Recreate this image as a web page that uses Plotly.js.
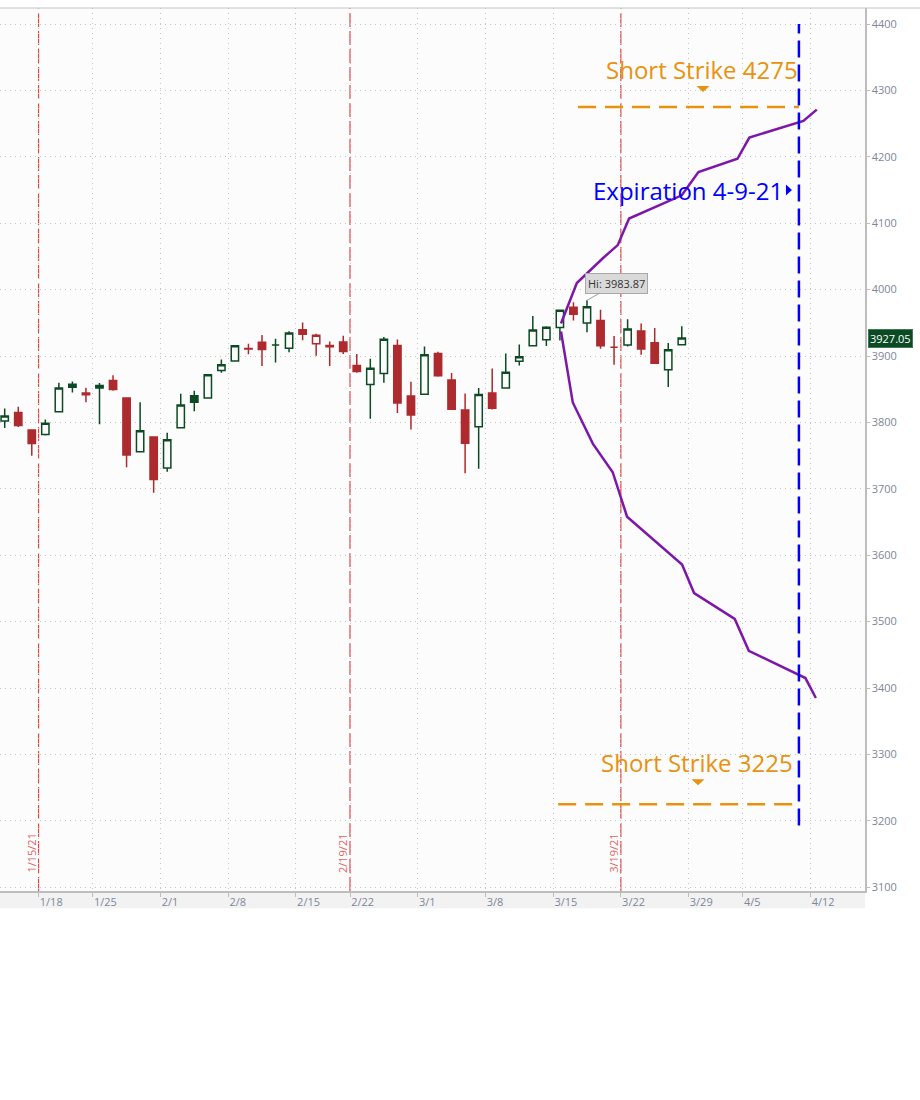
<!DOCTYPE html>
<html><head><meta charset="utf-8">
<script src="https://cdn.plot.ly/plotly-3.0.1.min.js"></script>
<style>html,body{margin:0;padding:0;background:#fff}#chart{width:920px;height:1100px}</style>
</head><body><div id="chart"></div>
<script>
// ---- data ----
const candleDates = ['2021-01-13','2021-01-14','2021-01-15','2021-01-19','2021-01-20','2021-01-21','2021-01-22',
 '2021-01-25','2021-01-26','2021-01-27','2021-01-28','2021-01-29','2021-02-01','2021-02-02','2021-02-03','2021-02-04','2021-02-05',
 '2021-02-08','2021-02-09','2021-02-10','2021-02-11','2021-02-12','2021-02-16','2021-02-17','2021-02-18','2021-02-19',
 '2021-02-22','2021-02-23','2021-02-24','2021-02-25','2021-02-26','2021-03-01','2021-03-02','2021-03-03','2021-03-04','2021-03-05',
 '2021-03-08','2021-03-09','2021-03-10','2021-03-11','2021-03-12','2021-03-15','2021-03-16','2021-03-17','2021-03-18','2021-03-19',
 '2021-03-22','2021-03-23','2021-03-24','2021-03-25','2021-03-26'];
const futureDays = ['2021-03-29','2021-03-30','2021-03-31','2021-04-01','2021-04-05','2021-04-06','2021-04-07','2021-04-08',
 '2021-04-09','2021-04-12','2021-04-13','2021-04-14','2021-04-15'];
const opens  = [3802.2,3815.0,3788.7,3781.9,3816.2,3857.5,3844.2,3851.7,3863.0,3836.8,3755.8,3778.1,3731.2,3791.8,3840.3,3836.7,3878.3,
 3892.6,3910.5,3920.8,3916.4,3911.7,3939.6,3918.5,3915.9,3921.2,3885.6,3857.1,3873.7,3915.8,3839.7,3842.5,3903.6,3864.0,3818.5,3793.6,
 3844.4,3851.9,3892.0,3915.5,3924.5,3943.0,3973.6,3949.6,3953.5,3913.1,3916.5,3937.6,3919.9,3879.3,3917.1];
const highs  = [3821.0,3823.6,3788.7,3804.5,3859.8,3861.5,3852.3,3859.2,3870.9,3836.8,3830.5,3778.1,3784.3,3843.1,3847.5,3872.4,3894.6,
 3915.8,3918.4,3931.5,3926.0,3937.2,3950.4,3933.6,3922.0,3930.4,3902.9,3896.0,3928.7,3925.0,3861.1,3914.5,3906.4,3874.5,3843.7,3851.7,
 3881.1,3903.8,3917.4,3960.3,3945.0,3970.1,3981.0,3983.87,3969.6,3930.1,3955.3,3949.1,3942.1,3919.5,3945.0];
const lows   = [3791.5,3792.9,3749.6,3780.4,3816.2,3845.1,3830.4,3797.2,3847.8,3732.5,3755.8,3694.1,3725.6,3791.8,3816.7,3836.7,3874.9,
 3892.6,3902.6,3884.9,3890.4,3905.8,3923.9,3900.4,3885.0,3903.1,3874.7,3805.6,3859.6,3814.0,3789.5,3842.5,3868.6,3818.9,3723.3,3730.2,
 3819.3,3851.9,3885.7,3915.5,3915.2,3923.5,3953.4,3935.7,3910.9,3886.8,3914.2,3901.8,3889.1,3853.5,3917.1];
const closes = [3809.8,3795.5,3768.3,3798.9,3851.9,3853.1,3841.5,3855.4,3849.6,3750.8,3787.4,3714.2,3773.9,3826.3,3830.2,3871.7,3886.8,
 3915.6,3911.2,3909.9,3916.4,3934.8,3932.6,3931.3,3914.0,3906.7,3876.5,3881.4,3925.4,3829.3,3811.2,3901.8,3870.3,3819.7,3768.5,3841.9,
 3821.4,3875.4,3898.8,3939.3,3943.3,3968.9,3962.7,3974.1,3915.5,3913.1,3940.6,3910.5,3889.1,3909.5,3927.05];
const priorClose = 3801.2;

const weekTickDates  = ['2021-01-18','2021-01-25','2021-02-01','2021-02-08','2021-02-15','2021-02-22','2021-03-01','2021-03-08',
 '2021-03-15','2021-03-22','2021-03-29','2021-04-05','2021-04-12'];
const weekTickLabels = ['1/18','1/25','2/1','2/8','2/15','2/22','3/1','3/8','3/15','3/22','3/29','4/5','4/12'];
const yTickValues = [3100,3200,3300,3400,3500,3600,3700,3800,3900,4000,4100,4200,4300,4400];

const monthlyExpDates  = ['2021-01-15','2021-02-19','2021-03-19'];
const monthlyExpLabels = ['1/15/21','2/19/21','3/19/21'];

// expected-move curves (x in trading-day positions)
const upperX = [41.08,42.25,44.21,45.27,46.11,50.00,51.23,54.11,54.99,58.98,59.97];
const upperY = [3949,4010,4048,4067,4107,4142,4177,4197,4229,4254,4271];
const lowerX = [41.08,41.95,43.43,44.90,45.96,50.02,50.91,53.91,54.95,59.13,59.90];
const lowerY = [3937,3830,3768,3725,3658,3586,3543,3504,3456,3415,3385];

const shortStrikes = [4275, 3225];
const strikeLabels = ['Short Strike 4275', 'Short Strike 3225'];
const strikeStart  = [42.34, 40.87];
const expirationPos = 58.65;
const expirationLabel = 'Expiration 4-9-21';
const expirationSpan = [3193, 4400];

// ---- derived ----
const tradingDays = candleDates.concat(futureDays);
const idxOf = d => tradingDays.indexOf(d);
const firstOnOrAfter = d => tradingDays.findIndex(t => t >= d);
const tickPos = weekTickDates.map(d => firstOnOrAfter(d) - 0.5);
const expLinePos = monthlyExpDates.map(d => idxOf(d) + 0.5);

const G = '#0b4a22', R = '#ad2a2f', BG = '#fcfcfc';
const grp = {g:{x:[],o:[],h:[],l:[],c:[]}, r:{x:[],o:[],h:[],l:[],c:[]}};
closes.forEach((c,i) => {
  const prev = i === 0 ? priorClose : closes[i-1];
  const k = c >= prev ? 'g' : 'r';
  grp[k].x.push(i); grp[k].o.push(opens[i]); grp[k].h.push(highs[i]); grp[k].l.push(lows[i]); grp[k].c.push(c);
});
function candle(k, col){
  return {type:'candlestick', x:grp[k].x, open:grp[k].o, high:grp[k].h, low:grp[k].l, close:grp[k].c,
    increasing:{line:{color:col,width:1.5}, fillcolor:BG},
    decreasing:{line:{color:col,width:1.5}, fillcolor:col},
    whiskerwidth:0, showlegend:false, hoverinfo:'skip'};
}
const PURPLE = '#7e16aa', ORANGE = '#e8920e', BLUE = '#0000ff';
const traces = [candle('g',G), candle('r',R),
  {type:'scatter', mode:'lines', x:upperX, y:upperY, line:{color:PURPLE,width:2.5}, showlegend:false, hoverinfo:'skip'},
  {type:'scatter', mode:'lines', x:lowerX, y:lowerY, line:{color:PURPLE,width:2.5}, showlegend:false, hoverinfo:'skip'}];
shortStrikes.forEach((s,i) => traces.push({type:'scatter', mode:'lines', x:[strikeStart[i], expirationPos], y:[s,s],
  line:{color:ORANGE,width:2.5,dash:'18px,9px'}, showlegend:false, hoverinfo:'skip'}));
traces.push({type:'scatter', mode:'lines', x:[expirationPos,expirationPos], y:expirationSpan,
  line:{color:BLUE,width:2.5,dash:'17px,7px'}, showlegend:false, hoverinfo:'skip'});

const maxHigh = Math.max(...highs), maxIdx = highs.indexOf(maxHigh);
const lastClose = closes[closes.length-1];
const FONT = 'Open Sans, sans-serif';

const shapes = [];
expLinePos.forEach(p => shapes.push({type:'line', xref:'x', yref:'paper', x0:p, x1:p, y0:0, y1:1,
  line:{color:'#e04646', width:1.2, dash:'14px,4px'}, layer:'between'}));
// label band under x axis
shapes.push({type:'rect', xref:'paper', yref:'paper', x0:0, x1:1, y0:-0.0195, y1:0, fillcolor:'#f2f2f2', line:{width:0}, layer:'below'});
// top border
shapes.push({type:'line', xref:'paper', yref:'paper', x0:0, x1:1.07, y0:1, y1:1, line:{color:'#c4c4c4', width:1}});
// strike markers
shapes.push({type:'path', xref:'x', yref:'y', xsizemode:'pixel', ysizemode:'pixel', xanchor:51.57, yanchor:shortStrikes[0],
  path:'M-6.5,21 L6.5,21 L0,15 Z', fillcolor:ORANGE, line:{width:0}});
shapes.push({type:'path', xref:'x', yref:'y', xsizemode:'pixel', ysizemode:'pixel', xanchor:51.2, yanchor:shortStrikes[1],
  path:'M-6.5,25 L6.5,25 L0,19 Z', fillcolor:ORANGE, line:{width:0}});
shapes.push({type:'path', xref:'x', yref:'y', xsizemode:'pixel', ysizemode:'pixel', xanchor:expirationPos, yanchor:4150,
  path:'M-13,5.5 L-7,0 L-13,-5.5 Z', fillcolor:BLUE, line:{width:0}});

const annotations = [];
monthlyExpLabels.forEach((t,i) => annotations.push({x:expLinePos[i], xref:'x', y:0.043, yref:'paper', text:t, textangle:-90,
  xanchor:'center', yanchor:'middle', showarrow:false, xshift:-8, font:{family:FONT, size:11, color:'#e06464'}}));
annotations.push({x:expirationPos, y:shortStrikes[0], xanchor:'right', yanchor:'middle', xshift:1, yshift:38, text:strikeLabels[0],
  showarrow:false, font:{family:FONT, size:24, color:ORANGE}});
annotations.push({x:expirationPos, y:shortStrikes[1], xanchor:'right', yanchor:'middle', xshift:-4, yshift:42, text:strikeLabels[1],
  showarrow:false, font:{family:FONT, size:24, color:ORANGE}});
annotations.push({x:expirationPos, y:4150, xanchor:'right', yanchor:'middle', xshift:-14, text:expirationLabel,
  showarrow:false, font:{family:FONT, size:24, color:BLUE}});
annotations.push({x:maxIdx, y:maxHigh, text:'Hi: ' + maxHigh.toFixed(2), showarrow:true, arrowhead:0, arrowwidth:1,
  arrowcolor:'#a0a0a0', ax:30, ay:-17, bgcolor:'#d9d9d9', bordercolor:'#a8a8a8', borderwidth:1, borderpad:2,
  font:{family:FONT, size:11, color:'#333'}});
annotations.push({x:1, xref:'paper', y:lastClose, yref:'y', xanchor:'left', yanchor:'middle', xshift:3, text:lastClose.toFixed(2),
  showarrow:false, bgcolor:'#0b4a22', bordercolor:'#3d7a55', borderwidth:1, borderpad:1, font:{family:FONT, size:11, color:'#fff'}});

const TICKFONT = {family:FONT, size:11, color:'#7d8799'};
const layout = {
  width:920, height:1100, margin:{l:0, r:55, t:8, b:209},
  paper_bgcolor:'#ffffff', plot_bgcolor:BG, hovermode:false, dragmode:false,
  boxgap:0.46, boxgroupgap:0,
  font:{family:FONT},
  xaxis:{type:'linear', range:[-0.347, 63.53], tickmode:'array', tickvals:tickPos, ticktext:weekTickLabels,
    ticks:'outside', ticklen:4, tickcolor:'#bdbdbd', showgrid:true, gridcolor:'#c4c4c4', griddash:'1px,4px', gridwidth:1,
    showline:true, linecolor:'#bdbdbd', linewidth:1.5, zeroline:false, tickfont:TICKFONT, ticklabelposition:'outside right',
    rangeslider:{visible:false}, fixedrange:true},
  xaxis2:{type:'linear', overlaying:'x', side:'top', anchor:'y', range:[-0.347, 63.53], tickmode:'array', tickvals:tickPos,
    ticks:'inside', ticklen:5, tickcolor:'#c4c4c4', showticklabels:false, showgrid:false, showline:false, zeroline:false},
  yaxis:{side:'right', range:[3094.3, 4424.1], tickmode:'array', tickvals:yTickValues, ticks:'outside', ticklen:3,
    tickcolor:'#bdbdbd', showgrid:true, gridcolor:'#c4c4c4', griddash:'1px,4px', gridwidth:1, showline:true, linecolor:'#bdbdbd',
    linewidth:1.5, zeroline:false, tickfont:TICKFONT, fixedrange:true},
  shapes:shapes, annotations:annotations
};
Plotly.newPlot('chart', traces, layout, {displayModeBar:false, staticPlot:true});
</script></body></html>
